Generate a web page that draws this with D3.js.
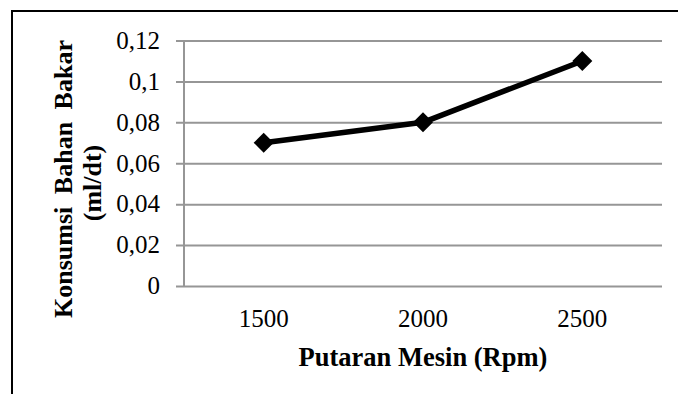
<!DOCTYPE html>
<html>
<head>
<meta charset="utf-8">
<script src="https://cdn.jsdelivr.net/npm/d3@7"></script>
<style>
  html, body { margin: 0; padding: 0; background: #fff; }
  svg { display: block; }
</style>
</head>
<body>
<div id="chart"></div>
<script>
const rpm = ["1500", "2000", "2500"];
const konsumsi = [0.07, 0.08, 0.11];
const yTicks = [0, 0.02, 0.04, 0.06, 0.08, 0.1, 0.12];

const width = 678, height = 394;
const margin = { top: 40.5, right: 16, bottom: 108, left: 184 };

const svg = d3.select("#chart")
    .append("svg")
    .attr("width", width)
    .attr("height", height);

// frame around the chart (right and bottom sides fall outside the picture)
svg.append("rect")
    .attr("x", 12)
    .attr("y", 11)
    .attr("width", 720)
    .attr("height", 420)
    .attr("fill", "none")
    .attr("stroke", "#000")
    .attr("stroke-width", 2);

const x = d3.scaleBand().domain(rpm).range([margin.left, width - margin.right]);
const y = d3.scaleLinear().domain([0, 0.12]).range([height - margin.bottom, margin.top]);

const fmt = d => String(d).replace(".", ",");

// gridlines + y axis
const yAxis = svg.append("g")
    .attr("transform", "translate(" + margin.left + ",0)")
    .call(d3.axisLeft(y)
        .tickValues(yTicks)
        .tickSize(-(width - margin.right - margin.left))
        .tickSizeOuter(0)
        .tickPadding(0)
        .tickFormat(""));
yAxis.select(".domain").remove();
yAxis.selectAll(".tick line")
    .attr("x1", -8)
    .attr("stroke", "#969696")
    .attr("stroke-width", 2);

svg.append("line")
    .attr("x1", margin.left).attr("x2", margin.left)
    .attr("y1", y(0.12)).attr("y2", y(0))
    .attr("stroke", "#969696")
    .attr("stroke-width", 2);

svg.append("g")
    .selectAll("text")
    .data(yTicks)
    .enter().append("text")
    .attr("x", 160)
    .attr("y", d => y(d))
    .attr("dy", "0.33em")
    .attr("text-anchor", "end")
    .style("font-family", "Liberation Serif")
    .style("font-size", "25px")
    .text(fmt);

// x labels
svg.append("g")
    .selectAll("text")
    .data(rpm)
    .enter().append("text")
    .attr("x", d => x(d) + x.bandwidth() / 2)
    .attr("y", 327)
    .attr("text-anchor", "middle")
    .style("font-family", "Liberation Serif")
    .style("font-size", "25px")
    .text(d => d);

// axis titles
svg.append("text")
    .attr("x", (margin.left + width - margin.right) / 2)
    .attr("y", 366)
    .attr("text-anchor", "middle")
    .style("font-family", "Liberation Serif")
    .style("font-size", "26.5px")
    .style("font-weight", "bold")
    .text("Putaran Mesin (Rpm)");

const yTitle = svg.append("g")
    .attr("transform", "rotate(-90)")
    .style("font-family", "Liberation Serif")
    .style("font-size", "26px")
    .style("font-weight", "bold")
    .attr("text-anchor", "middle");
yTitle.append("text").attr("x", -179).attr("y", 72)
    .style("word-spacing", "6px")
    .text("Konsumsi Bahan Bakar");
yTitle.append("text").attr("x", -183).attr("y", 101)
    .text("(ml/dt)");

// series
const points = rpm.map((r, i) => ({ r: r, v: konsumsi[i] }));
const line = d3.line()
    .x(d => x(d.r) + x.bandwidth() / 2)
    .y(d => y(d.v));

svg.append("path")
    .datum(points)
    .attr("d", line)
    .attr("fill", "none")
    .attr("stroke", "#000")
    .attr("stroke-width", 5.5)
    .attr("stroke-linejoin", "round");

svg.append("g")
    .selectAll("path")
    .data(points)
    .enter().append("path")
    .attr("d", d3.symbol().type(d3.symbolSquare).size(200))
    .attr("transform", d => "translate(" + (x(d.r) + x.bandwidth() / 2) + "," + y(d.v) + ") rotate(45)")
    .attr("fill", "#000");
</script>
</body>
</html>
